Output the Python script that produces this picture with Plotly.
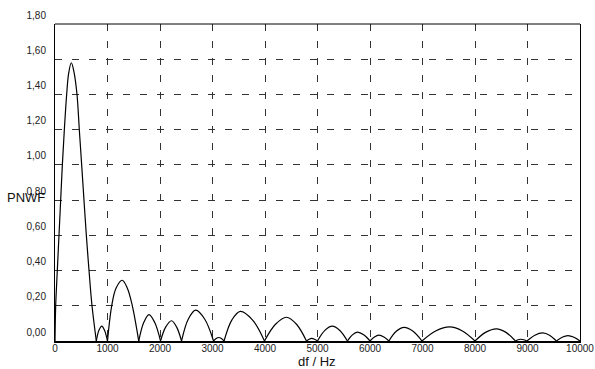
import plotly.graph_objects as go

# Curve: df (Hz) and PNWF values
df_hz = [
    0, 13, 44, 76, 108, 140, 178, 222, 260, 311, 360, 419, 463, 508, 552, 597, 648, 705, 787,
    835, 890, 945, 1000,
    1080, 1162, 1280, 1378, 1473, 1595,
    1690, 1790, 1900, 2010,
    2110, 2220, 2315, 2410,
    2540, 2680, 2850, 3020,
    3070, 3120, 3170, 3220,
    3370, 3530, 3760, 3990,
    4200, 4410, 4600, 4790,
    4840, 4890, 4945, 5000,
    5140, 5280, 5425, 5570,
    5665, 5760, 5880, 6000,
    6085, 6170, 6265, 6360,
    6500, 6650, 6820, 6990,
    7250, 7520, 7760, 8000,
    8200, 8410, 8590, 8770,
    8820, 8870, 8930, 8990,
    9140, 9290, 9420, 9550,
    9660, 9770, 9885, 10000,
]
pnwf = [
    0, 0.2, 0.4, 0.6, 0.8, 1.0, 1.2, 1.4, 1.52, 1.58, 1.53, 1.4, 1.2, 1.0, 0.8, 0.6, 0.4, 0.2, 0,
    0.06, 0.085, 0.06, 0,
    0.2, 0.3, 0.345, 0.3, 0.2, 0,
    0.105, 0.15, 0.105, 0,
    0.08, 0.115, 0.08, 0,
    0.125, 0.175, 0.125, 0,
    0.014, 0.02, 0.014, 0,
    0.12, 0.168, 0.12, 0,
    0.095, 0.135, 0.095, 0,
    0.01, 0.015, 0.01, 0,
    0.06, 0.084, 0.06, 0,
    0.035, 0.05, 0.035, 0,
    0.023, 0.033, 0.023, 0,
    0.055, 0.077, 0.055, 0,
    0.057, 0.08, 0.057, 0,
    0.049, 0.069, 0.049, 0,
    0.007, 0.01, 0.007, 0,
    0.033, 0.046, 0.033, 0,
    0.021, 0.03, 0.021, 0,
]

x_ticks = [0, 1000, 2000, 3000, 4000, 5000, 6000, 7000, 8000, 9000, 10000]
x_tick_labels = ["0", "1000", "2000", "3000", "4000", "5000", "6000", "7000", "8000", "9000", "10000"]
y_ticks = [0.0, 0.2, 0.4, 0.6, 0.8, 1.0, 1.2, 1.4, 1.6, 1.8]
y_tick_labels = ["0,00", "0,20", "0,40", "0,60", "0,80", "1,00", "1,20", "1,40", "1,60", "1,80"]

# split the curve into arches at its zeros so the cusps stay sharp
segments = []
cur_x, cur_y = [], []
for xv, yv in zip(df_hz, pnwf):
    cur_x.append(xv)
    cur_y.append(yv)
    if yv == 0 and len(cur_x) > 1:
        segments.append((cur_x, cur_y))
        cur_x, cur_y = [xv], [yv]

fig = go.Figure()
for sx, sy in segments:
    fig.add_trace(go.Scatter(
        x=sx, y=sy, mode="lines", line=dict(color="black", width=1.2, shape="spline", smoothing=1),
        showlegend=False, hoverinfo="skip"))

font_main = "Liberation Sans, Arial, sans-serif"
fig.update_layout(
    width=595, height=369,
    margin=dict(l=55, r=15, t=24, b=28, autoexpand=False),
    paper_bgcolor="white", plot_bgcolor="white",
    font=dict(family=font_main, size=10, color="#222"),
    showlegend=False,
    xaxis=dict(
        range=[0, 10000], tickvals=x_ticks, ticktext=x_tick_labels,
        showgrid=True, gridcolor="#333", gridwidth=1, griddash="7px,10px",
        zeroline=False, showline=True, linecolor="black", linewidth=2,
        ticks="", ticklabelstandoff=-3, tickfont=dict(size=10, color="#222"),
        fixedrange=True, automargin=False,
    ),
    yaxis=dict(
        range=[0, 1.8], tickvals=y_ticks, ticktext=y_tick_labels,
        showgrid=True, gridcolor="#333", gridwidth=1, griddash="7px,10px",
        zeroline=False, showline=True, mirror=True, linecolor="black", linewidth=1,
        ticks="", ticklabelstandoff=6, ticklabelshift=-9, tickfont=dict(size=10, color="#222"),
        fixedrange=True, automargin=False,
    ),
    shapes=[dict(type="line", xref="paper", yref="paper", x0=0, x1=1, y0=1, y1=1,
                 line=dict(color="black", width=1))],
    annotations=[
        dict(text="PNWF", xref="paper", yref="paper", x=-0.0952, y=0.454,
             xanchor="left", yanchor="middle", showarrow=False,
             font=dict(family=font_main, size=13, color="#111")),
        dict(text="df / Hz", xref="paper", yref="paper", x=0.499, y=-0.0647,
             xanchor="center", yanchor="middle", showarrow=False,
             font=dict(family=font_main, size=13, color="#111")),
    ],
)

fig.write_html("out.html", config={"displayModeBar": False},
               post_script="document.body.style.margin='0';document.body.style.padding='0';")
